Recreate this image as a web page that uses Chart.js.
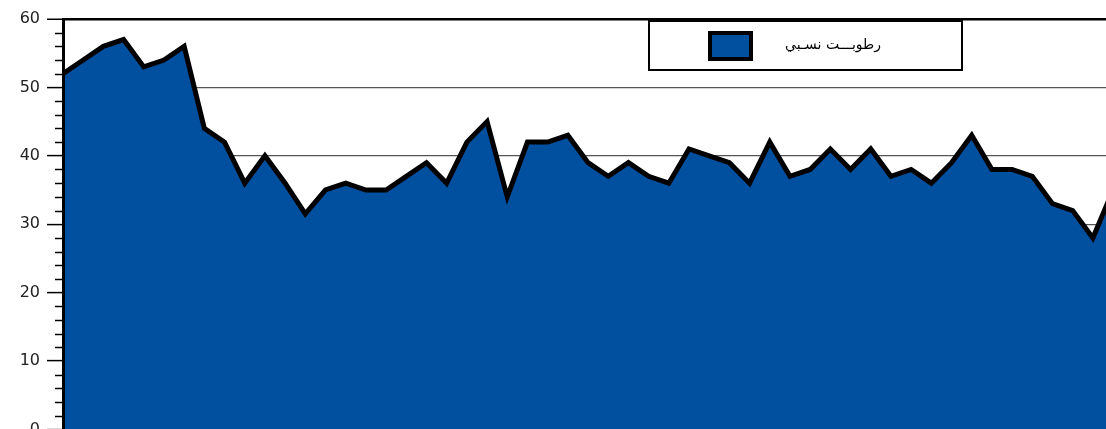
<!DOCTYPE html>
<html>
<head>
<meta charset="utf-8">
<script src="https://cdn.jsdelivr.net/npm/chart.js@4/dist/chart.umd.min.js"></script>
<style>
  html, body { margin: 0; padding: 0; background: #fff; overflow: hidden; }
  #wrap { position: relative; width: 1106px; height: 446px; }
</style>
</head>
<body>
<div id="wrap"><canvas id="humidityChart"></canvas></div>
<script>
// Relative humidity readings, one per step along the x axis
const seriesLabel = 'رطوبـــت نسـبي';
const humidity = [52, 54, 56, 57, 53, 54, 56, 44, 42, 36,
                  40, 36, 31.5, 35, 36, 35, 35, 37, 39, 36,
                  42, 45, 34, 42, 42, 43, 39, 37, 39, 37,
                  36, 41, 40, 39, 36, 42, 37, 38, 41, 38,
                  41, 37, 38, 36, 39, 43, 38, 38, 37, 33,
                  32, 28, 35];
const yTicks = [0, 10, 20, 30, 40, 50, 60];
const minorStep = 2;

const fillBlue = '#00509f';

// minor tick marks on the left axis + boxed legend
const extrasPlugin = {
  id: 'extras',
  afterDraw(chart) {
    const ctx = chart.ctx;
    const y = chart.scales.y;
    const left = chart.chartArea.left;
    ctx.save();
    ctx.strokeStyle = '#000';
    ctx.lineWidth = 1.5;
    for (let v = y.min; v <= y.max; v += minorStep) {
      if (yTicks.includes(v)) continue;
      const py = Math.round(y.getPixelForValue(v)) + 0.5;
      ctx.beginPath();
      ctx.moveTo(left - 8, py);
      ctx.lineTo(left, py);
      ctx.stroke();
    }

    // legend box
    const ds = chart.data.datasets[0];
    ctx.fillStyle = '#fff';
    ctx.fillRect(648, 20, 315, 51);
    ctx.lineWidth = 2;
    ctx.strokeStyle = '#000';
    ctx.strokeRect(649, 21, 313, 49);
    ctx.fillStyle = ds.backgroundColor;
    ctx.fillRect(710, 33, 41, 26);
    ctx.lineWidth = 4;
    ctx.strokeRect(710, 33, 41, 26);
    ctx.fillStyle = '#000';
    ctx.font = '14px "DejaVu Sans"';
    ctx.direction = 'rtl';
    ctx.textAlign = 'right';
    ctx.textBaseline = 'middle';
    ctx.fillText(ds.label, 881, 45);
    ctx.restore();
  }
};

const ctx = document.getElementById('humidityChart').getContext('2d');
const humidityChart = new Chart(ctx, {
  type: 'line',
  data: {
    datasets: [{
      label: seriesLabel,
      data: humidity.map((v, i) => ({ x: i + 1, y: v })),
      backgroundColor: fillBlue,
      borderColor: '#000',
      borderWidth: 5,
      borderJoinStyle: 'miter',
      pointRadius: 0,
      tension: 0,
      fill: 'origin'
    }]
  },
  options: {
    responsive: true,
    maintainAspectRatio: false,
    animation: false,
    layout: { padding: { top: 19, right: 0, bottom: 0, left: 0 } },
    plugins: {
      legend: { display: false },
      tooltip: { enabled: false }
    },
    scales: {
      x: {
        type: 'linear',
        display: false,
        min: 1,
        max: 52.65
      },
      y: {
        min: 0,
        max: 60,
        afterFit(scale) { scale.width = 63; },
        ticks: {
          stepSize: 10,
          padding: 7,
          color: '#222',
          font: { family: 'DejaVu Sans', size: 16 }
        },
        grid: {
          color: c => c.tick && c.tick.value === 60 ? '#000' : '#555',
          lineWidth: c => c.tick && c.tick.value === 60 ? 2.5 : 1.2,
          tickColor: '#000',
          tickWidth: 1.5,
          tickLength: 16
        },
        border: { color: '#000', width: 3, z: 1 }
      }
    }
  },
  plugins: [extrasPlugin]
});
</script>
</body>
</html>
